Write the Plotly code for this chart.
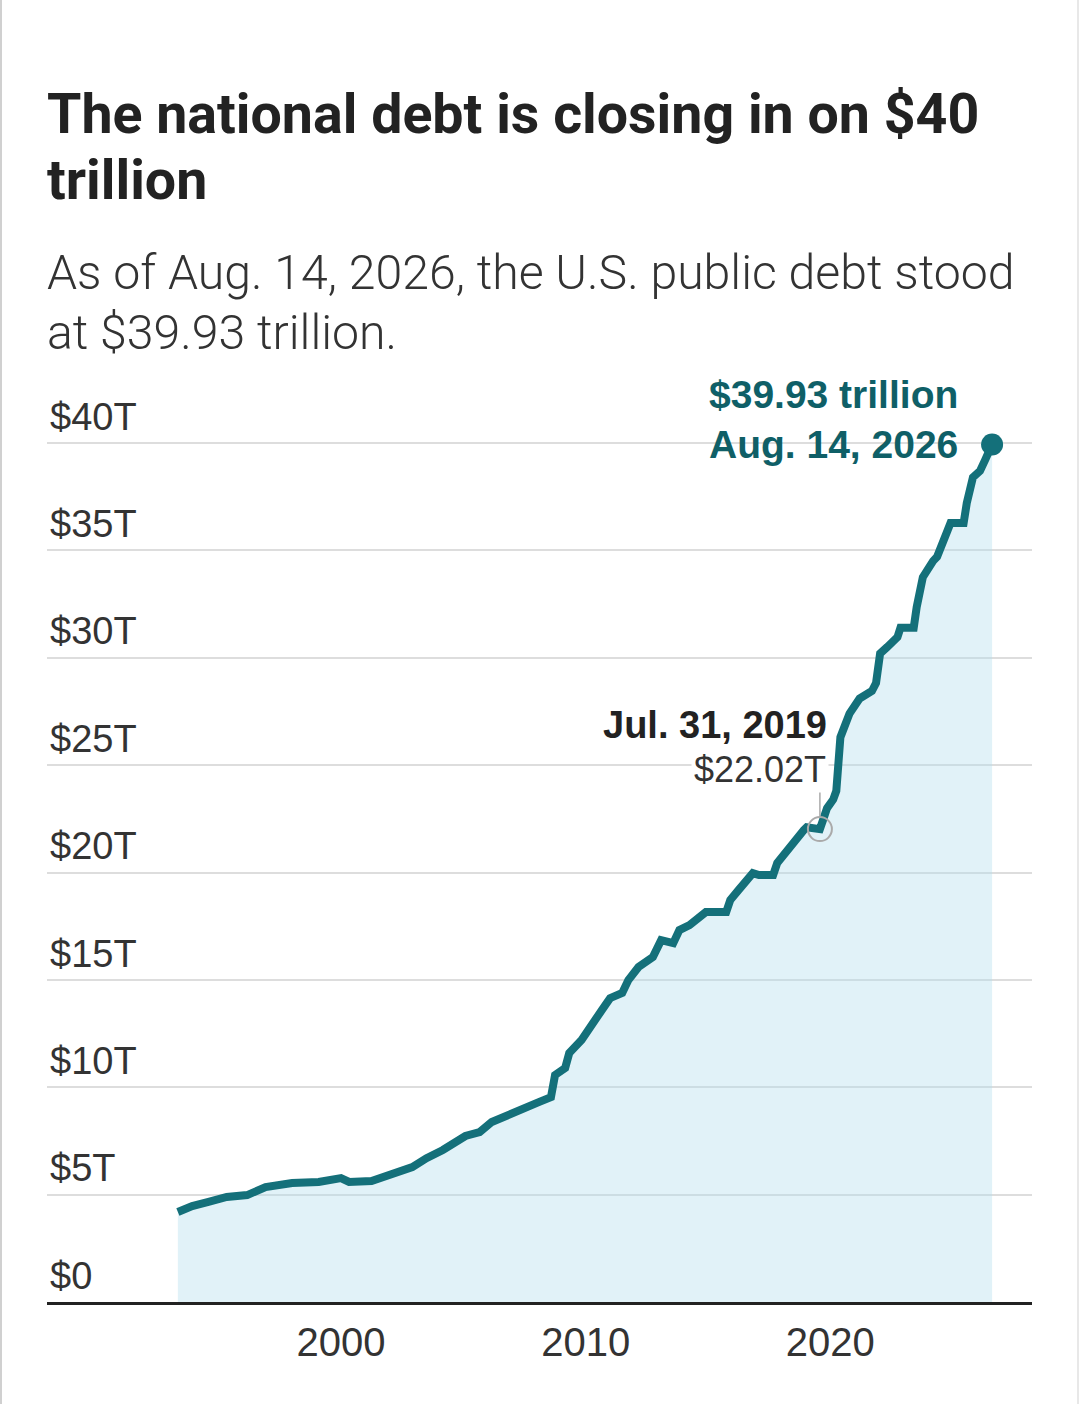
import plotly.graph_objects as go

# ---- data ----
dates = [
    "1993-05-01", "1993-12-01", "1994-08-01", "1995-05-01", "1996-03-01", "1996-12-01",
    "1998-01-01", "1999-02-01", "2000-01-01", "2000-05-01", "2001-04-01", "2002-02-01",
    "2002-12-01", "2003-07-01", "2004-03-01", "2005-02-01", "2005-09-01", "2006-03-01",
    "2007-04-01", "2008-02-01", "2008-08-01", "2008-10-01", "2009-03-01", "2009-05-01",
    "2009-11-01", "2010-03-01", "2010-09-01", "2011-01-01", "2011-07-01", "2011-10-01",
    "2012-03-01", "2012-10-01", "2013-02-01", "2013-08-01", "2013-11-01", "2014-04-01",
    "2014-12-01", "2015-10-01", "2015-12-01", "2016-04-01", "2016-11-01", "2017-02-01",
    "2017-09-01", "2017-11-01", "2018-03-01", "2018-12-01", "2019-01-15", "2019-06-15",
    "2019-07-31", "2019-09-15", "2019-11-15", "2020-02-15", "2020-04-01", "2020-06-01",
    "2020-10-15", "2021-03-15", "2021-09-15", "2021-11-15", "2022-01-15", "2022-05-01",
    "2022-10-01", "2022-11-15", "2023-06-01", "2023-07-15", "2023-10-15", "2024-03-15",
    "2024-05-15", "2024-10-15", "2024-12-01", "2025-06-15", "2025-08-01", "2025-11-01",
    "2026-02-15", "2026-05-01", "2026-08-14",
]
debt_trillions = [
    4.19, 4.47, 4.66, 4.89, 4.98, 5.35,
    5.54, 5.59, 5.77, 5.59, 5.63, 5.91,
    6.28, 6.70, 7.08, 7.73, 7.91, 8.38,
    8.85, 9.31, 9.54, 10.57, 10.89, 11.59,
    12.20, 12.80, 13.60, 14.15, 14.39, 14.99,
    15.60, 16.06, 16.85, 16.71, 17.32, 17.55,
    18.16, 18.16, 18.72, 19.18, 19.97, 19.88,
    19.88, 20.44, 20.95, 21.97, 22.11, 22.08,
    22.02, 22.44, 23.00, 23.40, 23.80, 26.30,
    27.40, 28.10, 28.45, 28.82, 30.20, 30.50,
    30.96, 31.40, 31.40, 32.36, 33.75, 34.50,
    34.70, 35.90, 36.27, 36.27, 37.20, 38.40,
    38.70, 39.20, 39.93,
]
y_tick_vals = [0, 5, 10, 15, 20, 25, 30, 35, 40]
y_tick_text = ["$0", "$5T", "$10T", "$15T", "$20T", "$25T", "$30T", "$35T", "$40T"]
x_tick_vals = ["2000-01-01", "2010-01-01", "2020-01-01"]
x_tick_text = ["2000", "2010", "2020"]

highlight_date = "2019-07-31"
highlight_value = 22.02
highlight_label = "Jul. 31, 2019"
highlight_value_text = "$22.02T"
latest_date = "2026-08-14"
latest_value = 39.93
latest_label = "Aug. 14, 2026"
latest_value_text = "$39.93 trillion"

title_lines = ["The national debt is closing in on $40", "trillion"]
subtitle_lines = ["As of Aug. 14, 2026, the U.S. public debt stood", "at $39.93 trillion."]

# ---- styling ----
W, H = 1080, 1404
ML, MR, MT, MB = 47, 48, 380, 102
PW, PH = W - ML - MR, H - MT - MB
PX_PER_T = 21.475
Y_MAX = PH / PX_PER_T

TEAL = "#14707a"
TEAL_TEXT = "#0f5f67"
TXT = "#222222"
SUB = "#333333"
FONT_REG = "Roboto, sans-serif"
FONT_BOLD = "Roboto, sans-serif"
FONT_NUM = "Liberation Sans, Arial, sans-serif"


def py(px_y):
    """paper y fraction for an absolute pixel row"""
    return (H - MB - px_y) / PH


def pxx(px_x):
    return (px_x - ML) / PW


fig = go.Figure()

fig.add_trace(go.Scatter(
    x=dates, y=debt_trillions, mode="lines",
    line=dict(width=0, color="rgba(0,0,0,0)"),
    fill="tozeroy", fillcolor="rgba(180,222,238,0.40)",
    hoverinfo="skip", showlegend=False,
))
fig.add_trace(go.Scatter(
    x=dates, y=debt_trillions, mode="lines",
    line=dict(width=8, color=TEAL, shape="linear"),
    showlegend=False,
))
# highlight circle
fig.add_trace(go.Scatter(
    x=[highlight_date], y=[highlight_value], mode="markers",
    marker=dict(size=24, symbol="circle-open", color="#aaaaaa", line=dict(width=2, color="#aaaaaa")),
    showlegend=False,
))
# end dot
fig.add_trace(go.Scatter(
    x=[latest_date], y=[latest_value], mode="markers",
    marker=dict(size=22, color=TEAL),
    showlegend=False,
))

annotations = []
# title
annotations.append(dict(xref="paper", yref="paper", x=pxx(45), y=py(114), xanchor="left", yanchor="middle",
                        text="<b>" + title_lines[0] + "</b>", showarrow=False,
                        font=dict(family=FONT_BOLD, size=55.5, color=TXT)))
annotations.append(dict(xref="paper", yref="paper", x=pxx(45), y=py(180), xanchor="left", yanchor="middle",
                        text="<b>" + title_lines[1] + "</b>", showarrow=False,
                        font=dict(family=FONT_BOLD, size=55.5, color=TXT)))
# subtitle
annotations.append(dict(xref="paper", yref="paper", x=pxx(45), y=py(272), xanchor="left", yanchor="middle",
                        text=subtitle_lines[0], showarrow=False,
                        font=dict(family=FONT_REG, size=48.2, color=SUB, weight=300)))
annotations.append(dict(xref="paper", yref="paper", x=pxx(45), y=py(332), xanchor="left", yanchor="middle",
                        text=subtitle_lines[1], showarrow=False,
                        font=dict(family=FONT_REG, size=48.2, color=SUB, weight=300)))
# highlight labels
annotations.append(dict(x=highlight_date, y=highlight_value, xanchor="right", yanchor="middle",
                        xshift=9, yshift=104, text="<b>" + highlight_label + "</b>", showarrow=False,
                        font=dict(family=FONT_NUM, size=38, color=TXT)))
annotations.append(dict(x=highlight_date, y=highlight_value, xanchor="right", yanchor="middle",
                        xshift=9, yshift=60, text=highlight_value_text, showarrow=False,
                        bgcolor="white", borderpad=2,
                        font=dict(family=FONT_NUM, size=36, color=SUB)))
# latest labels
annotations.append(dict(x=latest_date, y=latest_value, xanchor="right", yanchor="middle",
                        xshift=-32, yshift=50, text="<b>" + latest_value_text + "</b>", showarrow=False,
                        font=dict(family=FONT_NUM, size=39, color=TEAL_TEXT)))
annotations.append(dict(x=latest_date, y=latest_value, xanchor="right", yanchor="middle",
                        xshift=-32, yshift=0, text="<b>" + latest_label + "</b>", showarrow=False,
                        font=dict(family=FONT_NUM, size=39, color=TEAL_TEXT)))

shapes = [
    # leader line for highlight
    dict(type="line", xref="x", yref="y", x0=highlight_date, x1=highlight_date,
         y0=highlight_value + 13 / PX_PER_T, y1=highlight_value + 44 / PX_PER_T,
         line=dict(color="#aaaaaa", width=1.5)),
    # page edges
    dict(type="line", xref="paper", yref="paper", x0=pxx(1), x1=pxx(1), y0=py(0), y1=py(H),
         line=dict(color="#d0d0d0", width=2)),
    dict(type="line", xref="paper", yref="paper", x0=pxx(1078), x1=pxx(1078), y0=py(0), y1=py(H),
         line=dict(color="#e8e8e8", width=2)),
]

fig.update_layout(
    width=W, height=H,
    margin=dict(l=ML, r=MR, t=MT, b=MB, pad=0),
    paper_bgcolor="white", plot_bgcolor="white",
    annotations=annotations, shapes=shapes,
    showlegend=False,
    xaxis=dict(
        type="date", range=["1987-12-25", "2028-04-01"],
        tickvals=x_tick_vals, ticktext=x_tick_text,
        showgrid=False, zeroline=False,
        showline=True, linecolor="#222222", linewidth=2.5,
        ticks="", ticklabelstandoff=3,
        tickfont=dict(family=FONT_NUM, size=40, color=SUB),
        fixedrange=True,
    ),
    yaxis=dict(
        range=[0, Y_MAX],
        tickvals=y_tick_vals, ticktext=y_tick_text,
        ticklabelposition="inside top",
        showgrid=True, gridcolor="#dddddd", gridwidth=2,
        zeroline=False, showline=False, ticks="",
        tickfont=dict(family=FONT_NUM, size=38, color=SUB),
        fixedrange=True,
    ),
)

fig.write_html("out.html", config={"displayModeBar": False},
               post_script="document.body.style.margin='0';document.body.style.padding='0';")
